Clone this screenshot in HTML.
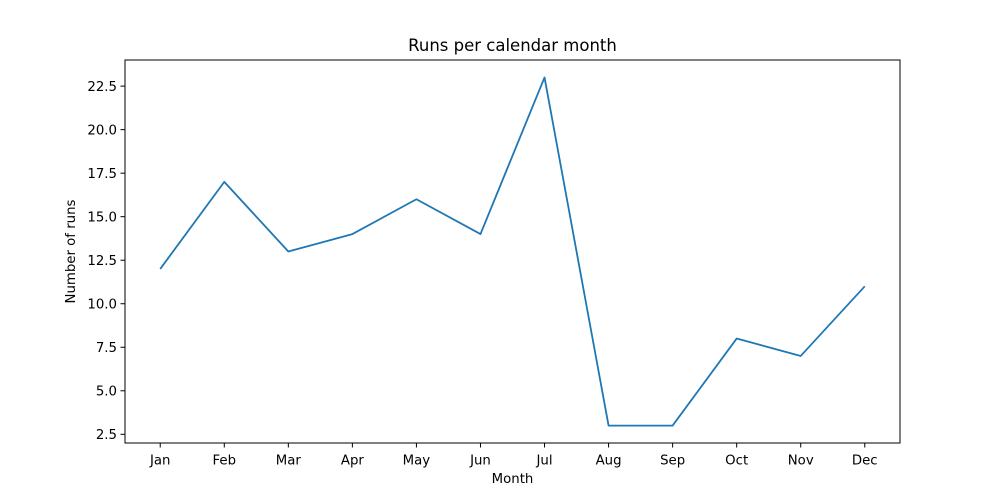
<!DOCTYPE html>
<html><head><meta charset="utf-8"><style>
html,body{margin:0;padding:0;background:#fff;}
svg{display:block;font-family:"DejaVu Sans","Liberation Sans",sans-serif;}
</style></head><body>
<svg id="chart" width="1000" height="498" xmlns="http://www.w3.org/2000/svg">
<rect width="1000" height="498" fill="#fff"/>
<text x="512.5" y="51" text-anchor="middle" font-size="16.5">Runs per calendar month</text>
<text x="512.5" y="483" text-anchor="middle" font-size="13.3">Month</text>
<text transform="translate(75,251.5) rotate(-90)" text-anchor="middle" font-size="13.3">Number of runs</text>
<g id="ticks"></g>
<path id="line" fill="none" stroke="#1f77b4" stroke-width="1.8" stroke-linejoin="round"/>
<rect x="125" y="60" width="775" height="383" fill="none" stroke="#000" stroke-width="1"/>
</svg>
<script>
const months = ["Jan","Feb","Mar","Apr","May","Jun","Jul","Aug","Sep","Oct","Nov","Dec"];
const runs = [12,17,13,14,16,14,23,3,3,8,7,11];
const yTicks = [2.5,5.0,7.5,10.0,12.5,15.0,17.5,20.0,22.5];
const L=125,R=900,T=60,B=443;
const xmin=-0.55,xmax=11.55,ymin=2,ymax=24;
function xs(i){return L+(i-xmin)/(xmax-xmin)*(R-L);}
function ys(v){return B-(v-ymin)/(ymax-ymin)*(B-T);}
const NS="http://www.w3.org/2000/svg";
const g=document.getElementById('ticks');
months.forEach((m,i)=>{
  const x=xs(i);
  const l=document.createElementNS(NS,'line');
  l.setAttribute('x1',x);l.setAttribute('x2',x);l.setAttribute('y1',B);l.setAttribute('y2',B+4.5);l.setAttribute('stroke','#000');
  
  
  g.appendChild(l);
  const t=document.createElementNS(NS,'text');
  t.setAttribute('x',x);t.setAttribute('y',B+21.5);t.setAttribute('text-anchor','middle');t.setAttribute('font-size','13.3');
  t.textContent=m;
  
  
  g.appendChild(t);
});
yTicks.forEach(v=>{
  const y=ys(v);
  const l=document.createElementNS(NS,'line');
  l.setAttribute('x1',L-4.5);l.setAttribute('x2',L);l.setAttribute('y1',y);l.setAttribute('y2',y);l.setAttribute('stroke','#000');
  
  
  g.appendChild(l);
  const t=document.createElementNS(NS,'text');
  t.setAttribute('x',L-8);t.setAttribute('y',y+4.8);t.setAttribute('text-anchor','end');t.setAttribute('font-size','13.3');
  t.textContent=v.toFixed(1);
  
  
  g.appendChild(t);
});
document.getElementById('line').setAttribute('d',runs.map((v,i)=>(i?'L':'M')+xs(i).toFixed(2)+','+ys(v).toFixed(2)).join(' '));
</script>
</body></html>
